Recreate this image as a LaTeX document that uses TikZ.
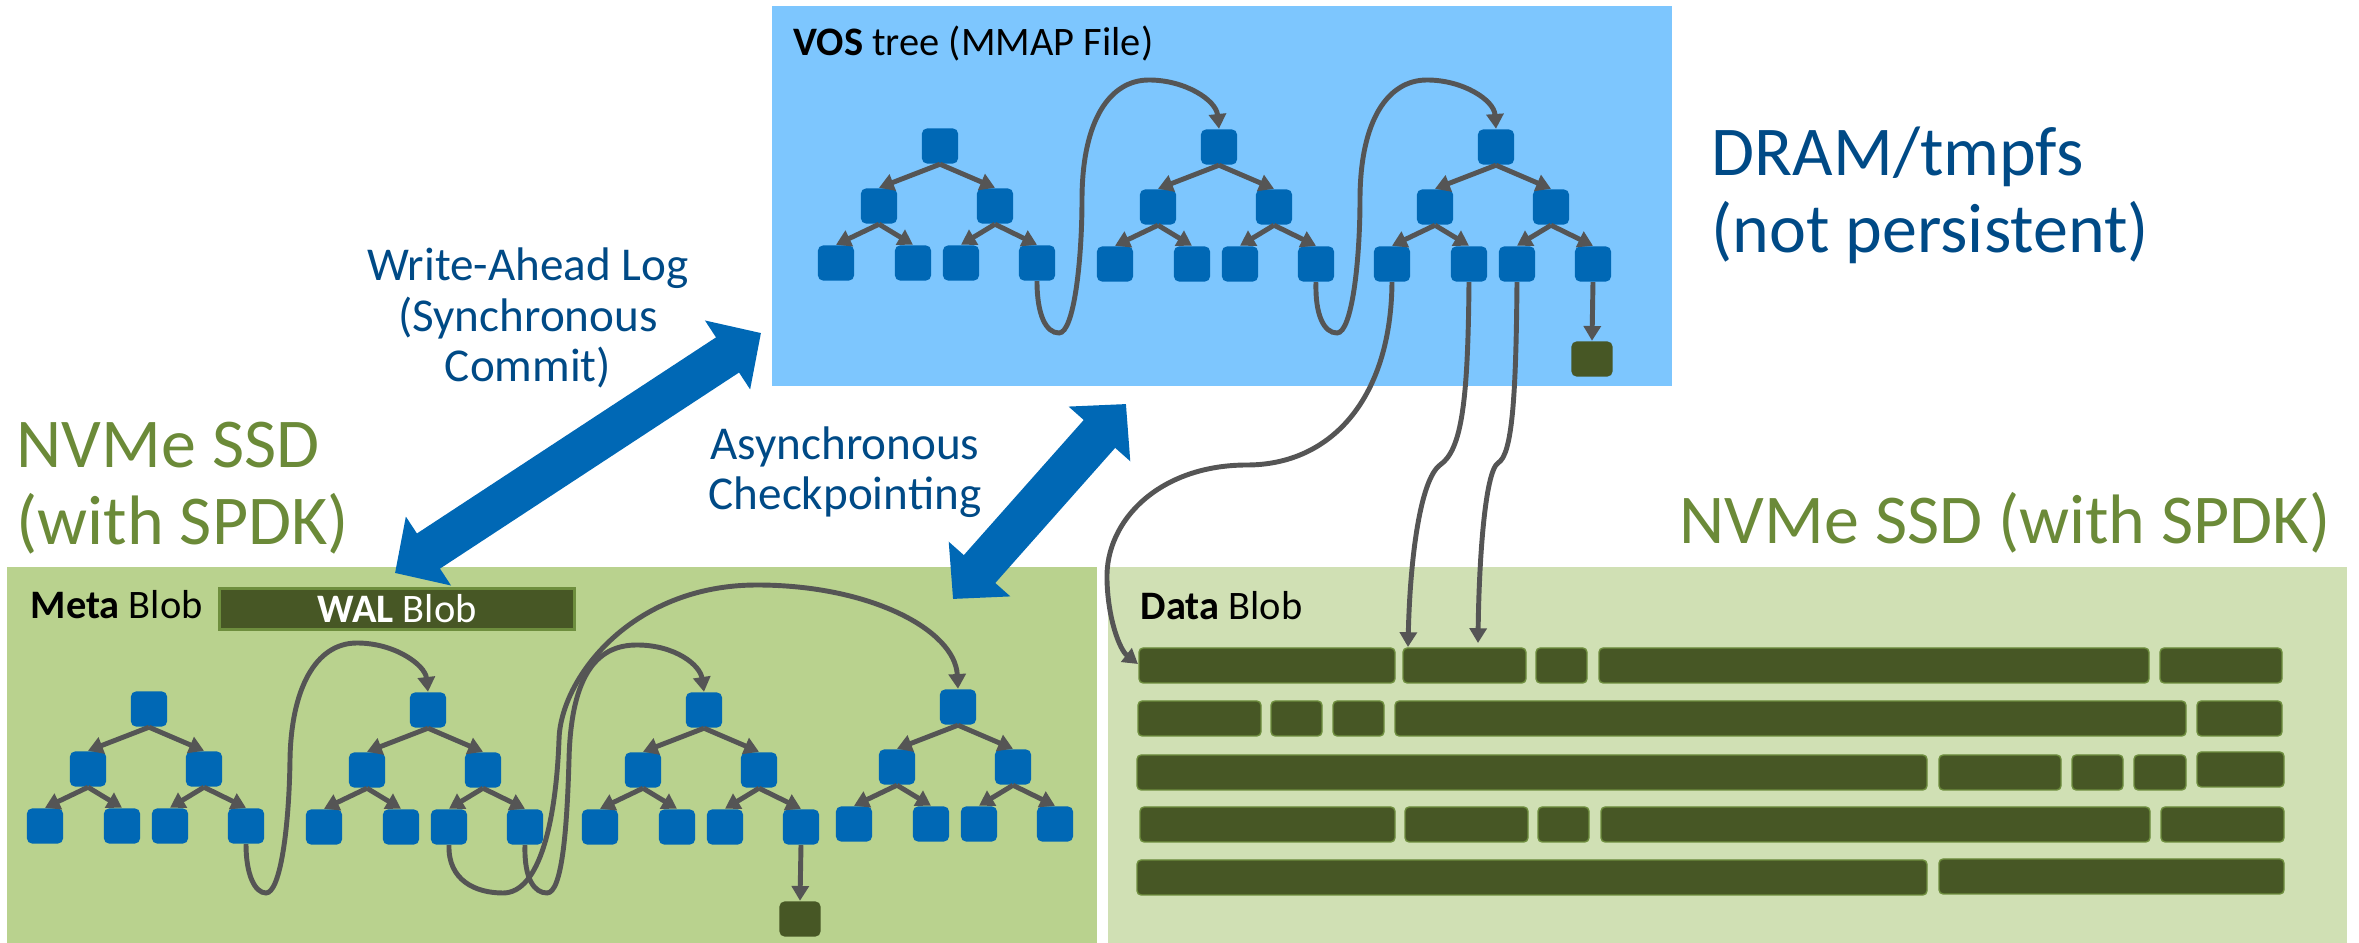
\documentclass[tikz,border=0pt]{standalone}
\usepackage{fontspec}
\setmainfont{Carlito}
\usetikzlibrary{arrows.meta}
\definecolor{vosblue}{HTML}{7DC6FE}
\definecolor{metagreen}{HTML}{B9D28E}
\definecolor{datagreen}{HTML}{D0E0B4}
\definecolor{blobgreen}{HTML}{475725}
\definecolor{blobedge}{HTML}{6E8E3E}
\definecolor{nodeblue}{HTML}{0068B5}
\definecolor{linegray}{HTML}{555555}
\definecolor{txtblue}{HTML}{004A86}
\definecolor{txtgreen}{HTML}{6B8A38}
\tikzset{
    treebox/.style={fill=nodeblue, rounded corners=1.4pt, minimum width=0.36cm, minimum height=0.35cm, inner sep=0pt},
    leafblob/.style={fill=blobgreen, rounded corners=1.4pt, minimum width=0.41cm, minimum height=0.35cm, inner sep=0pt},
    ptr/.style={draw=linegray, line width=1.4pt, -{Triangle[length=4.2pt,width=4.8pt]}},
    datablk/.style={fill=blobgreen, draw=blobedge, line width=0.4pt, rounded corners=1.2pt},
    bigarrow/.style={draw=nodeblue, line width=0.42cm, {Triangle[length=0.4cm,width=0.8cm]}-{Triangle[length=0.4cm,width=0.8cm]}},
    bigtxt/.style={font=\fontsize{19.9}{21.9}\selectfont, inner sep=0pt},
    midtxt/.style={font=\fontsize{13.4}{14.5}\selectfont, text=txtblue, align=center, inner sep=0pt},
    lbltxt/.style={font=\fontsize{11.5}{13}\selectfont, inner sep=0pt}
}
\begin{document}
\begin{tikzpicture}[x=0.01cm, y=-0.01cm]
    \useasboundingbox (0,0) rectangle (2359,943);
    \fill[vosblue] (772,6) rectangle (1672,386);
    \fill[metagreen] (7,567) rectangle (1097,943);
    \fill[datagreen] (1108,567) rectangle (2347,943);

    \node[lbltxt, anchor=base west] (vostitle) at (793,56) {\textbf{VOS} tree (MMAP File)};
    \node[lbltxt, anchor=base west] (metatitle) at (30,619) {\textbf{Meta} Blob};
    \node[lbltxt, anchor=base west] (datatitle) at (1140,620) {\textbf{Data} Blob};
    \node[lbltxt, fill=blobgreen, draw=blobedge, line width=0.85pt, minimum width=3.54cm, minimum height=0.41cm, text=white] (wal) at (397,609) {\textbf{WAL} Blob};

    \node[bigtxt, text=txtblue, anchor=base west, align=left] (dram) at (1711,253) {DRAM/tmpfs\\(not persistent)};
    \node[bigtxt, text=txtgreen, anchor=base west, align=left] (ssdleft) at (16,545) {NVMe SSD\\(with SPDK)};
    \node[bigtxt, text=txtgreen, anchor=base west] (ssdright) at (1679,544) {NVMe SSD (with SPDK)};
    \node[midtxt, anchor=base] (walnote) at (528,382) {Write-Ahead Log\\(Synchronous\\Commit)};
    \node[midtxt, anchor=base] (cpnote) at (845,510) {Asynchronous\\Checkpointing};

    \foreach \t/\x/\y in {v1/940/146, v2/1219/147, v3/1496/147, m1/149/709, m2/428/710, m3/704/710, m4/958/707} {
        \node[treebox] (\t-root) at (\x,\y) {};
        \node[treebox] (\t-a) at (\x-61,\y+60) {};
        \node[treebox] (\t-b) at (\x+55,\y+60) {};
        \node[treebox] (\t-l1) at (\x-104,\y+117) {};
        \node[treebox] (\t-l2) at (\x-27,\y+117) {};
        \node[treebox] (\t-l3) at (\x+21,\y+117) {};
        \node[treebox] (\t-l4) at (\x+97,\y+117) {};
        \draw[ptr] (\t-root.south) -- (\t-a.north);
        \draw[ptr] (\t-root.south) -- (\t-b.north);
        \draw[ptr] (\t-a.south) -- (\t-l1.north);
        \draw[ptr] (\t-a.south) -- (\t-l2.north);
        \draw[ptr] (\t-b.south) -- (\t-l3.north);
        \draw[ptr] (\t-b.south) -- (\t-l4.north);
    }

    \node[leafblob] (vgreen) at (1592,359) {};
    \node[leafblob] (mgreen) at (800,919) {};
    \draw[ptr] (v3-l4.south) -- (vgreen.north);
    \draw[ptr] (m3-l4.south) -- (mgreen.north);

    \draw[ptr] (v1-l4.south) .. controls (1037,315) and (1046,333) .. (1059,333) .. controls (1074,333) and (1082,260) .. (1082,200) .. controls (1082,120) and (1110,80) .. (1149,80) .. controls (1185,80) and (1216,100) .. (v2-root.north);
    \draw[ptr] (v2-l4.south) .. controls (1315,315) and (1324,333) .. (1337,333) .. controls (1352,333) and (1360,260) .. (1360,200) .. controls (1360,120) and (1388,80) .. (1427,80) .. controls (1463,80) and (1494,100) .. (v3-root.north);
    \draw[ptr] (m1-l4.south) .. controls (246,875) and (255,893) .. (266,893) .. controls (280,893) and (289,830) .. (290,760) .. controls (291,690) and (315,643) .. (357,643) .. controls (395,643) and (425,665) .. (m2-root.north);
    \draw[ptr] (m2-l3.south) .. controls (448,880) and (475,893) .. (503,893) .. controls (540,893) and (556,820) .. (559,740) .. controls (560,680) and (630,585) .. (757,585) .. controls (870,585) and (955,630) .. (m4-root.north);
    \draw[ptr] (m2-l4.south) .. controls (524,880) and (535,893) .. (547,893) .. controls (562,893) and (567,830) .. (569,760) .. controls (571,670) and (600,645) .. (637,645) .. controls (675,645) and (700,665) .. (m3-root.north);

    \foreach \a/\b/\y in {1139/1395/648, 1403/1526/648, 1536/1587/648, 1599/2149/648, 2160/2282/648,
        1138/1261/701, 1271/1322/701, 1333/1384/701, 1395/2186/701, 2197/2282/701,
        1137/1927/755, 1939/2061/755, 2072/2123/755, 2134/2186/755, 2197/2284/752,
        1140/1395/807, 1405/1528/807, 1538/1589/807, 1601/2150/807, 2161/2284/807,
        1137/1927/860, 1939/2284/859}
        \draw[datablk] (\a,\y) rectangle (\b,\y+35);

    \coordinate (slot1) at (1138,664);
    \coordinate (slot2) at (1408,647);
    \coordinate (slot3) at (1478,643);
    \draw[ptr] (v3-l1.south) .. controls (1391,400) and (1330,465) .. (1247,465) .. controls (1160,465) and (1105,520) .. (1107,580) .. controls (1108,620) and (1120,650) .. (slot1);
    \draw[ptr] (v3-l2.south) .. controls (1468,400) and (1462,450) .. (1440,465) .. controls (1420,480) and (1410,560) .. (slot2);
    \draw[ptr] (v3-l3.south) .. controls (1516,400) and (1512,455) .. (1498,463) .. controls (1485,472) and (1479,560) .. (slot3);

    \coordinate (walend) at (395,573);
    \coordinate (walstart) at (761,333);
    \coordinate (cpend) at (953,599);
    \coordinate (cpstart) at (1126,404);
    \draw[bigarrow] (walend) -- (walstart);
    \draw[bigarrow] (cpend) -- (cpstart);
\end{tikzpicture}
\end{document}
